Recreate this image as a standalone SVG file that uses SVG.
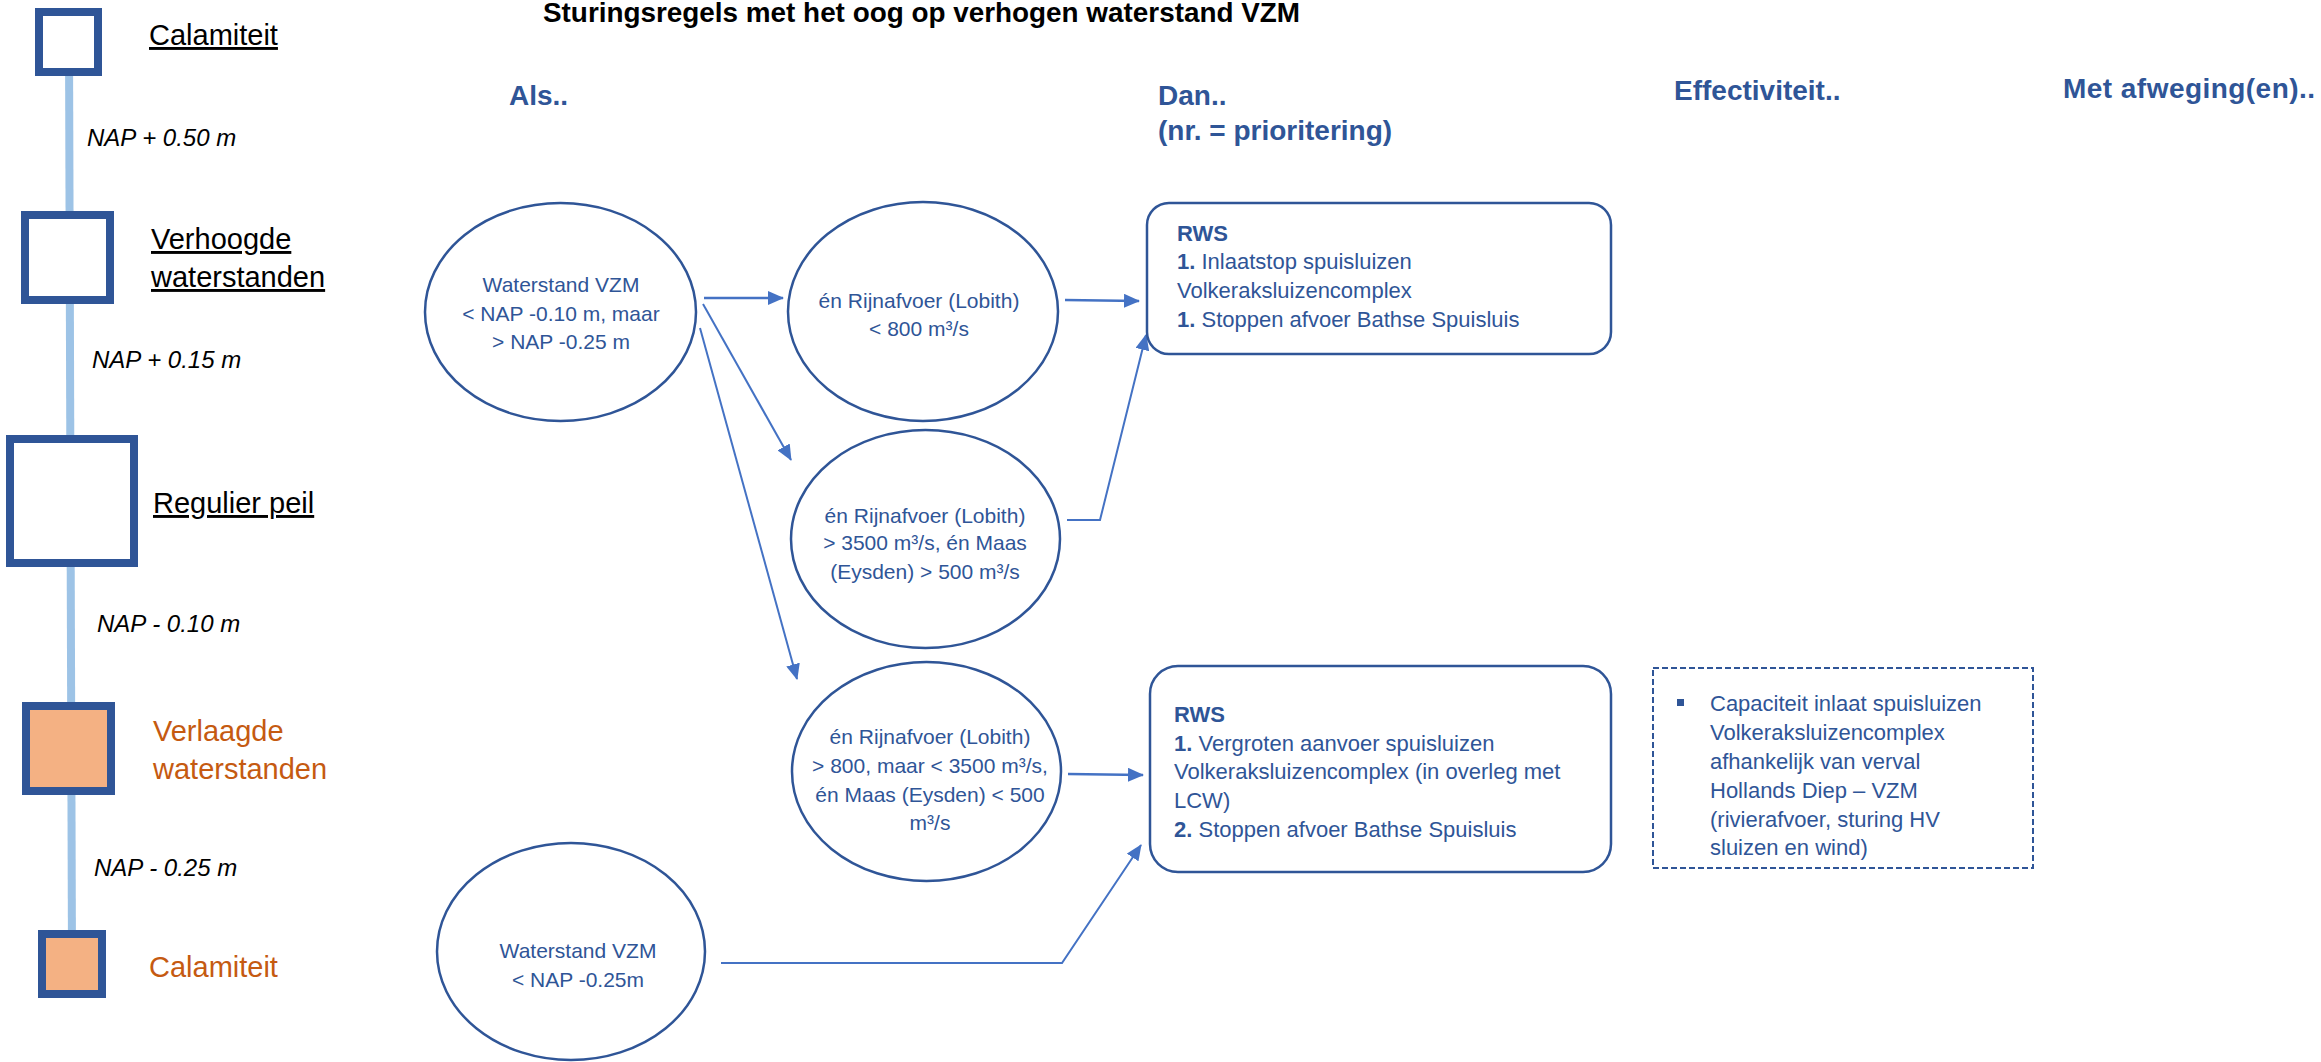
<svg xmlns="http://www.w3.org/2000/svg" width="2321" height="1062" viewBox="0 0 2321 1062">
  <style>
    .lvl { fill: #FFFFFF; stroke: #2F5597; stroke-width: 8; }
    .lvl.low { fill: #F4B183; }
    .lbl { font-family: "Liberation Sans", Arial, sans-serif; font-size: 29px; fill: #000000; }
    .lbl.u { text-decoration: underline; }
    .lbl.low { fill: #C55A11; }
    .nap { font-family: "Liberation Sans", Arial, sans-serif; font-size: 24px; font-style: italic; fill: #000000; }
    .title { font-family: "Liberation Sans", Arial, sans-serif; font-size: 27px; font-weight: bold; fill: #000000; }
    .head { font-family: "Liberation Sans", Arial, sans-serif; font-size: 28px; font-weight: bold; fill: #2F5597; }
    .cond { fill: #FFFFFF; stroke: #2F5597; stroke-width: 2.5; }
    .ctxt { font-family: "Liberation Sans", Arial, sans-serif; font-size: 21px; fill: #2F5597; text-anchor: middle; }
    .box { fill: #FFFFFF; stroke: #2F5597; stroke-width: 2.5; }
    .btxt { font-family: "Liberation Sans", Arial, sans-serif; font-size: 22px; fill: #2F5597; }
    .b { font-weight: bold; }
    .note { fill: #FFFFFF; stroke: #2F5597; stroke-width: 2; stroke-dasharray: 6 3; }
    .conn { fill: none; stroke: #4472C4; stroke-width: 2.5; }
    .conn.thin { stroke-width: 2; }
  </style>
  <defs>
    <marker id="arrow" markerUnits="userSpaceOnUse" markerWidth="16" markerHeight="14" refX="15" refY="7" orient="auto">
      <path d="M0,0 L16,7 L0,14 Z" fill="#4472C4"/>
    </marker>
  </defs>

  <rect width="2321" height="1062" fill="#FFFFFF"/>

  <!-- water level scale -->
  <g id="scale">
    <line x1="69" y1="42" x2="72" y2="964" stroke="#9DC3E6" stroke-width="8"/>
    <text class="nap" x="87" y="146">NAP + 0.50 m</text>
    <text class="nap" x="92" y="368">NAP + 0.15 m</text>
    <text class="nap" x="97" y="632">NAP - 0.10 m</text>
    <text class="nap" x="94" y="876">NAP - 0.25 m</text>
  </g>
  <g id="level-calamiteit-high">
    <rect class="lvl" x="39" y="12" width="59" height="60"/>
    <text class="lbl u" x="149" y="45">Calamiteit</text>
  </g>
  <g id="level-verhoogd">
    <rect class="lvl" x="25" y="215" width="85" height="85"/>
    <text class="lbl u" x="151" y="249">Verhoogde</text>
    <text class="lbl u" x="151" y="287">waterstanden</text>
  </g>
  <g id="level-regulier">
    <rect class="lvl" x="10" y="439" width="124" height="124"/>
    <text class="lbl u" x="153" y="513">Regulier peil</text>
  </g>
  <g id="level-verlaagd">
    <rect class="lvl low" x="26" y="706" width="85" height="85"/>
    <text class="lbl low" x="153" y="741">Verlaagde</text>
    <text class="lbl low" x="153" y="779">waterstanden</text>
  </g>
  <g id="level-calamiteit-low">
    <rect class="lvl low" x="42" y="934" width="60" height="60"/>
    <text class="lbl low" x="149" y="977">Calamiteit</text>
  </g>

  <!-- headings -->
  <g id="headings">
    <text class="title" x="543" y="22" textLength="757" lengthAdjust="spacingAndGlyphs">Sturingsregels met het oog op verhogen waterstand VZM</text>
    <text class="head" x="509" y="105">Als..</text>
    <text class="head" x="1158" y="105">Dan..</text>
    <text class="head" x="1158" y="140">(nr. = prioritering)</text>
    <text class="head" x="1674" y="100">Effectiviteit..</text>
    <text class="head" x="2063" y="98" textLength="252">Met afweging(en)..</text>
  </g>

  <!-- connectors -->
  <g id="connectors">
    <path class="conn" d="M704,298 L783,298" marker-end="url(#arrow)"/>
    <path class="conn thin" d="M703,304 L791,460" marker-end="url(#arrow)"/>
    <path class="conn thin" d="M700,328 L797,679" marker-end="url(#arrow)"/>
    <path class="conn" d="M1065,300 L1139,301" marker-end="url(#arrow)"/>
    <path class="conn thin" d="M1067,520 L1100,520 L1146,335" marker-end="url(#arrow)"/>
    <path class="conn" d="M1068,774 L1143,775" marker-end="url(#arrow)"/>
    <path class="conn thin" d="M721,963 L1062,963 L1141,845" marker-end="url(#arrow)"/>
  </g>

  <!-- conditions -->
  <g id="cond-vzm-high">
    <ellipse class="cond" cx="560.5" cy="312" rx="135.5" ry="109"/>
    <text class="ctxt" x="561" y="292">Waterstand VZM</text>
    <text class="ctxt" x="561" y="321">&lt; NAP -0.10 m, maar</text>
    <text class="ctxt" x="561" y="349">&gt; NAP -0.25 m</text>
  </g>
  <g id="cond-rijn-low">
    <ellipse class="cond" cx="923" cy="311.5" rx="135" ry="109.5"/>
    <text class="ctxt" x="919" y="308">én Rijnafvoer (Lobith)</text>
    <text class="ctxt" x="919" y="336">&lt; 800 m³/s</text>
  </g>
  <g id="cond-rijn-high">
    <ellipse class="cond" cx="925.5" cy="539" rx="134.5" ry="109"/>
    <text class="ctxt" x="925" y="523">én Rijnafvoer (Lobith)</text>
    <text class="ctxt" x="925" y="550">&gt; 3500 m³/s, én Maas</text>
    <text class="ctxt" x="925" y="579">(Eysden) &gt; 500 m³/s</text>
  </g>
  <g id="cond-rijn-mid">
    <ellipse class="cond" cx="926.5" cy="771.5" rx="134.5" ry="109.5"/>
    <text class="ctxt" x="930" y="744">én Rijnafvoer (Lobith)</text>
    <text class="ctxt" x="930" y="773">&gt; 800, maar &lt; 3500 m³/s,</text>
    <text class="ctxt" x="930" y="802">én Maas (Eysden) &lt; 500</text>
    <text class="ctxt" x="930" y="830">m³/s</text>
  </g>
  <g id="cond-vzm-low">
    <ellipse class="cond" cx="571" cy="951.5" rx="134" ry="108.5"/>
    <text class="ctxt" x="578" y="958">Waterstand VZM</text>
    <text class="ctxt" x="578" y="987">&lt; NAP -0.25m</text>
  </g>

  <!-- actions -->
  <g id="action-stop">
    <rect class="box" x="1147" y="203" width="464" height="151" rx="22"/>
    <text class="btxt" x="1177" y="241"><tspan class="b">RWS</tspan></text>
    <text class="btxt" x="1177" y="269"><tspan class="b">1.</tspan> Inlaatstop spuisluizen</text>
    <text class="btxt" x="1177" y="298">Volkeraksluizencomplex</text>
    <text class="btxt" x="1177" y="327"><tspan class="b">1.</tspan> Stoppen afvoer Bathse Spuisluis</text>
  </g>
  <g id="action-increase">
    <rect class="box" x="1150" y="666" width="461" height="206" rx="28"/>
    <text class="btxt" x="1174" y="722"><tspan class="b">RWS</tspan></text>
    <text class="btxt" x="1174" y="751"><tspan class="b">1.</tspan> Vergroten aanvoer spuisluizen</text>
    <text class="btxt" x="1174" y="779">Volkeraksluizencomplex (in overleg met</text>
    <text class="btxt" x="1174" y="808">LCW)</text>
    <text class="btxt" x="1174" y="837"><tspan class="b">2.</tspan> Stoppen afvoer Bathse Spuisluis</text>
  </g>

  <!-- effectiveness note -->
  <g id="effect-capacity">
    <rect class="note" x="1653" y="668" width="380" height="200"/>
    <rect x="1677" y="699" width="7" height="7" fill="#2F5597"/>
    <text class="btxt" x="1710" y="711">Capaciteit inlaat spuisluizen</text>
    <text class="btxt" x="1710" y="740">Volkeraksluizencomplex</text>
    <text class="btxt" x="1710" y="769">afhankelijk van verval</text>
    <text class="btxt" x="1710" y="798">Hollands Diep – VZM</text>
    <text class="btxt" x="1710" y="827">(rivierafvoer, sturing HV</text>
    <text class="btxt" x="1710" y="855">sluizen en wind)</text>
  </g>
</svg>
